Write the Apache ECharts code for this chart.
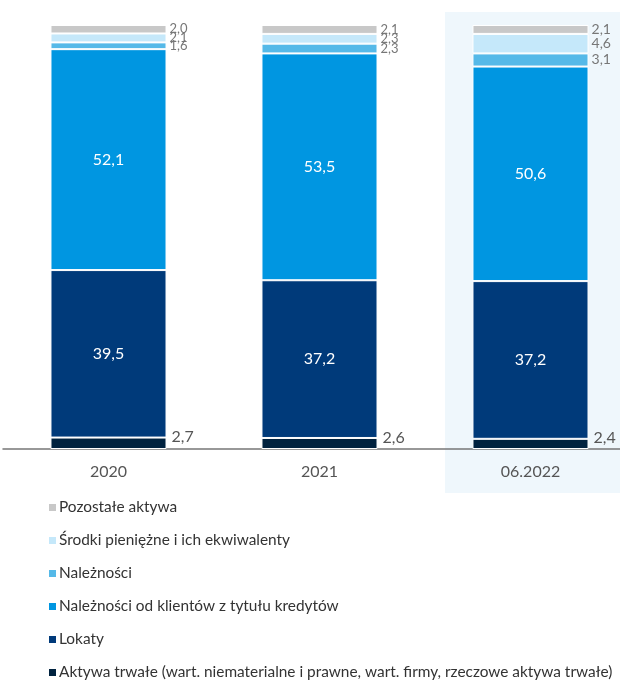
<!DOCTYPE html>
<html><head><meta charset="utf-8">
<script src="https://cdn.jsdelivr.net/npm/echarts@6/dist/echarts.min.js"></script>
<style>html,body{margin:0;padding:0;background:#fff}#c{width:620px;height:680px}</style>
</head><body><div id="c"></div>
<script>
const categories = ['2020', '2021', '06.2022'];
const aktywaTrwale = [2.7, 2.6, 2.4];
const lokaty = [39.5, 37.2, 37.2];
const naleznosciKlienci = [52.1, 53.5, 50.6];
const naleznosci = [1.6, 2.3, 3.1];
const srodki = [2.1, 2.3, 4.6];
const pozostale = [2.0, 2.1, 2.1];

const names = [
  'Aktywa trwałe (wart. niematerialne i prawne, wart. firmy, rzeczowe aktywa trwałe)',
  'Lokaty',
  'Należności od klientów z tytułu kredytów',
  'Należności',
  'Środki pieniężne i ich ekwiwalenty',
  'Pozostałe aktywa'
];
const colors = ['#00223f', '#003a7a', '#0096e1', '#55b9e8', '#c5e8fa', '#c8c8c8'];
const dataSets = [aktywaTrwale, lokaty, naleznosciKlienci, naleznosci, srodki, pozostale];
const FONT = 'Lato';
const fmt = p => p.value.toFixed(1).replace('.', ',');

const labelFor = i => {
  if (i === 0) return {show: true, position: 'right', formatter: fmt, color: '#555', fontSize: 16, fontFamily: FONT, offset: [0, -6]};
  if (i === 1 || i === 2) return {show: true, position: 'inside', formatter: fmt, color: '#fff', fontSize: 16, fontFamily: FONT};
  return {show: true, position: 'right', formatter: fmt, color: '#777', fontSize: 13, fontFamily: FONT, distance: 3};
};

const series = names.map((n, i) => ({
  name: n,
  type: 'bar',
  stack: 'a',
  barWidth: '55%',
  data: dataSets[i].map((v, j) => ({
    value: v,
    label: (i >= 3 && j === 2) ? {fontSize: 14} : undefined
  })),
  itemStyle: {color: colors[i], borderColor: '#fff', borderWidth: 1},
  label: labelFor(i),
  animation: false
}));

const chart = echarts.init(document.getElementById('c'), null, {renderer: 'canvas'});
chart.setOption({
  animation: false,
  textStyle: {fontFamily: FONT},
  graphic: [{type: 'rect', z: -10, shape: {x: 445, y: 12, width: 180, height: 481}, style: {fill: '#eff7fc'}}],
  grid: {left: 3, top: 25, width: 633, height: 424, outerBoundsMode: 'none', containLabel: false},
  xAxis: {
    type: 'category', data: categories,
    axisLine: {lineStyle: {color: '#777', width: 1.5}},
    axisTick: {show: false},
    axisLabel: {color: '#555', fontSize: 16, margin: 15, fontFamily: FONT}
  },
  yAxis: {type: 'value', min: 0, max: 100, show: false},
  legend: {
    orient: 'vertical', left: 47, top: 500, height: 200, padding: 0,
    data: names.slice().reverse(),
    icon: 'rect', itemWidth: 9, itemHeight: 9, itemGap: 18,
    textStyle: {fontSize: 15.4, color: '#333', fontFamily: FONT, padding: [0, 0, 0, -3]}
  },
  series: series
});
</script></body></html>
